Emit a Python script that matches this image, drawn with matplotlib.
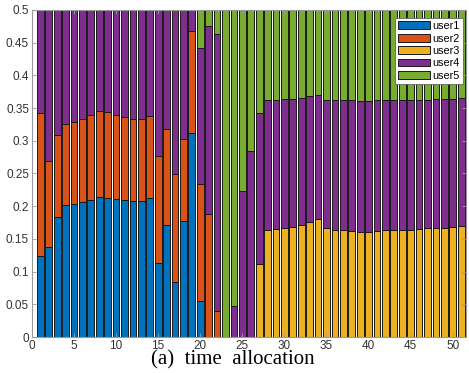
import numpy as np
import matplotlib
matplotlib.use("Agg")
import matplotlib.pyplot as plt

slots = np.arange(1, 52)

user1 = [0.124, 0.137, 0.184, 0.202, 0.204, 0.207, 0.210, 0.214, 0.213, 0.211,
         0.209, 0.208, 0.208, 0.212, 0.113, 0.171, 0.084, 0.177, 0.312, 0.055] + [0] * 31
user2 = [0.218, 0.132, 0.124, 0.124, 0.125, 0.126, 0.129, 0.132, 0.131, 0.128,
         0.127, 0.125, 0.125, 0.126, 0.163, 0.147, 0.165, 0.126,
         0.156, 0.179, 0.188, 0.040] + [0] * 29
user3 = [0] * 26 + [0.112,
         0.164, 0.165, 0.166, 0.168, 0.171, 0.176, 0.181, 0.167, 0.164, 0.164,
         0.162, 0.161, 0.161, 0.162, 0.163, 0.164, 0.164, 0.164, 0.165, 0.166,
         0.166, 0.167, 0.168, 0.169]
user4 = [0.158, 0.231, 0.192, 0.174, 0.171, 0.167, 0.161, 0.154, 0.156, 0.161,
         0.164, 0.167, 0.167, 0.162, 0.224, 0.182, 0.251, 0.197,
         0.032, 0.207, 0.288, 0.423, 0, 0.048, 0.223, 0.284, 0.230,
         0.199, 0.198, 0.198, 0.196, 0.195, 0.192, 0.189, 0.196, 0.199, 0.198,
         0.200, 0.200, 0.200, 0.200, 0.199, 0.198, 0.199, 0.199, 0.198, 0.197,
         0.198, 0.197, 0.196, 0.196]
user5 = [0] * 18 + [0, 0.059, 0.024, 0.037, 0.5, 0.452, 0.277, 0.216, 0.158,
         0.137, 0.137, 0.136, 0.136, 0.134, 0.132, 0.130, 0.137, 0.137, 0.138,
         0.138, 0.139, 0.139, 0.138, 0.138, 0.138, 0.137, 0.137, 0.137, 0.137,
         0.136, 0.136, 0.136, 0.135]

labels = ["user1", "user2", "user3", "user4", "user5"]
colors = ["#0072BD", "#D95319", "#EDB120", "#7E2F8E", "#77AC30"]

plt.rcParams["font.family"] = ["Liberation Sans", "DejaVu Sans"]

fig = plt.figure(figsize=(4.69, 3.73), dpi=100)
ax = fig.add_axes([0.068, 0.0965, 0.926, 0.877])

bottom = np.zeros(len(slots))
for vals, lab, col in zip([user1, user2, user3, user4, user5], labels, colors):
    vals = np.array(vals)
    ax.bar(slots, vals, width=0.8, bottom=bottom, color=col, edgecolor="#1a1a1a",
           linewidth=0.7, label=lab)
    bottom += vals

ax.set_xlim(0, 51.6)
ax.set_ylim(0, 0.5)
ax.set_xticks(np.arange(0, 51, 5))
ax.set_yticks(np.arange(0, 0.51, 0.05))
ax.set_yticklabels(["0", "0.05", "0.1", "0.15", "0.2", "0.25", "0.3", "0.35", "0.4", "0.45", "0.5"])
ax.tick_params(direction="in", length=3, width=0.6, labelsize=8.5, colors="#9a9a9a",
               labelcolor="#333333", top=True, right=True, pad=2)
for s in ax.spines.values():
    s.set_color("#9a9a9a")
    s.set_linewidth(0.8)

leg = ax.legend(loc="upper right", bbox_to_anchor=(0.993, 0.9755), borderaxespad=0,
                fontsize=7.8, frameon=True, fancybox=False,
                handlelength=3.0, handleheight=0.75, handletextpad=0.2, labelspacing=0.22,
                borderpad=0.3)
leg.get_frame().set_edgecolor("#666666")
leg.get_frame().set_linewidth(0.6)
leg.get_frame().set_alpha(1)

fig.text(0.497, 0.035, "(a)  time  allocation", family="Liberation Serif", fontsize=15,
         ha="center", va="center")

fig.savefig("out.png", dpi=100)
